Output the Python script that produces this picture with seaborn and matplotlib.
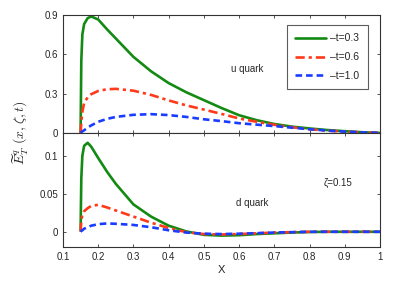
import matplotlib
matplotlib.use("Agg")
import matplotlib.pyplot as plt
import pandas as pd
import numpy as np
import seaborn as sns

# x grid shared by all curves
x_vals = [0.15, 0.152, 0.155, 0.16, 0.17, 0.18, 0.2, 0.225, 0.25, 0.3, 0.35, 0.4,
          0.45, 0.5, 0.55, 0.6, 0.65, 0.7, 0.75, 0.8, 0.85, 0.9, 0.95, 1.0]

# u quark
u_t03 = [0.0, 0.55, 0.75, 0.83, 0.875, 0.888, 0.865, 0.79, 0.72, 0.58, 0.47, 0.38,
         0.31, 0.25, 0.19, 0.135, 0.097, 0.068, 0.048, 0.034, 0.022, 0.013, 0.005, 0.0]
u_t06 = [0.0, 0.08, 0.16, 0.23, 0.27, 0.295, 0.32, 0.333, 0.336, 0.322, 0.29, 0.248,
         0.21, 0.178, 0.145, 0.11, 0.085, 0.062, 0.043, 0.028, 0.017, 0.01, 0.004, 0.0]
u_t10 = [0.0, 0.005, 0.012, 0.02, 0.04, 0.057, 0.085, 0.107, 0.122, 0.138, 0.143, 0.136,
         0.122, 0.104, 0.09, 0.074, 0.063, 0.052, 0.04, 0.028, 0.018, 0.01, 0.004, 0.0]

# d quark
d_t03 = [0.002, 0.07, 0.10, 0.113, 0.117, 0.112, 0.097, 0.079, 0.063, 0.036, 0.02, 0.008,
         0.0005, -0.004, -0.005, -0.0045, -0.003, -0.002, -0.001, -0.0003, 0.0, 0.0, 0.0, 0.0]
d_t06 = [0.0, 0.015, 0.022, 0.027, 0.031, 0.034, 0.0355, 0.032, 0.028, 0.02, 0.012, 0.005,
         -0.0005, -0.003, -0.0035, -0.003, -0.002, -0.001, -0.0005, 0.0, 0.0, 0.0, 0.0, 0.0]
d_t10 = [0.0, 0.001, 0.002, 0.004, 0.006, 0.008, 0.010, 0.011, 0.0105, 0.009, 0.006, 0.002,
         -0.001, -0.0025, -0.003, -0.0025, -0.0018, -0.001, -0.0005, 0.0, 0.0, 0.0, 0.0, 0.0]

labels = ["\u2013t=0.3", "\u2013t=0.6", "\u2013t=1.0"]
colors = ["#138a13", "#ff3a1a", "#1a3cff"]
x_ticks = [0.1, 0.2, 0.3, 0.4, 0.5, 0.6, 0.7, 0.8, 0.9, 1.0]
x_ticklabels = ["0.1", "0.2", "0.3", "0.4", "0.5", "0.6", "0.7", "0.8", "0.9", "1"]


def make_df(series):
    rows = []
    for lab, vals in zip(labels, series):
        for x, v in zip(x_vals, vals):
            rows.append((x, v, lab))
    return pd.DataFrame(rows, columns=["x", "E", "t"])


df_u = make_df([u_t03, u_t06, u_t10])
df_d = make_df([d_t03, d_t06, d_t10])

sns.set_style("ticks")
plt.rcParams["font.family"] = ["Liberation Sans", "DejaVu Sans"]
plt.rcParams["mathtext.fontset"] = "cm"
plt.rcParams["xtick.direction"] = "in"
plt.rcParams["ytick.direction"] = "in"
plt.rcParams["xtick.major.size"] = 2.5
plt.rcParams["ytick.major.size"] = 2.5
plt.rcParams["axes.edgecolor"] = "#333333"
plt.rcParams["axes.linewidth"] = 0.8

palette = dict(zip(labels, colors))
dashes = dict(zip(labels, ["", (3.5, 1.5, 1.2, 1.5), (2.5, 1.5)]))

fig = plt.figure(figsize=(4.09, 2.81), dpi=100)
ax1 = fig.add_axes([0.154, 0.527, 0.775, 0.42])
ax2 = fig.add_axes([0.154, 0.121, 0.775, 0.406])

for ax, df in [(ax1, df_u), (ax2, df_d)]:
    sns.lineplot(data=df, x="x", y="E", hue="t", style="t", palette=palette,
                 dashes=dashes, linewidth=1.9, ax=ax, legend=(ax is ax1))
    ax.set_xlim(0.1, 1.0)
    ax.set_xticks(x_ticks)
    ax.set_xlabel("")
    ax.set_ylabel("")
    ax.tick_params(top=True, right=True, labelsize=7, width=0.6, color="#333333")

ax1.set_ylim(0, 0.9)
ax1.set_yticks([0, 0.3, 0.6, 0.9])
ax1.set_yticklabels(["0", "0.3", "0.6", "0.9"])
ax1.set_xticklabels([])

ax2.set_ylim(-0.02, 0.13)
ax2.set_yticks([0, 0.05, 0.1])
ax2.set_yticklabels(["0", "0.05", "0.1"])
ax2.set_xticklabels(x_ticklabels)
ax2.set_xlabel("X", fontsize=8, labelpad=2)

leg = ax1.legend(loc="upper right", bbox_to_anchor=(0.978, 0.958), fontsize=7.5,
                 frameon=True, fancybox=False, edgecolor="#333333",
                 handlelength=3.0, labelspacing=0.85, borderpad=0.8,
                 handletextpad=0.4)
leg.get_frame().set_linewidth(0.8)

ax1.text(0.58, 0.54, "u quark", transform=ax1.transAxes, fontsize=7,
         ha="center", va="center")
ax2.text(0.596, 0.386, "d quark", transform=ax2.transAxes, fontsize=7,
         ha="center", va="center")
ax2.text(0.868, 0.56, "\u03b6=0.15", transform=ax2.transAxes, fontsize=7,
         ha="center", va="center")

fig.text(0.049, 0.527, r"$\widetilde{E}^{q}_{T}\ (x,\zeta,t)$", rotation=90,
         ha="center", va="center", fontsize=10)

fig.savefig("out.png", dpi=100)
